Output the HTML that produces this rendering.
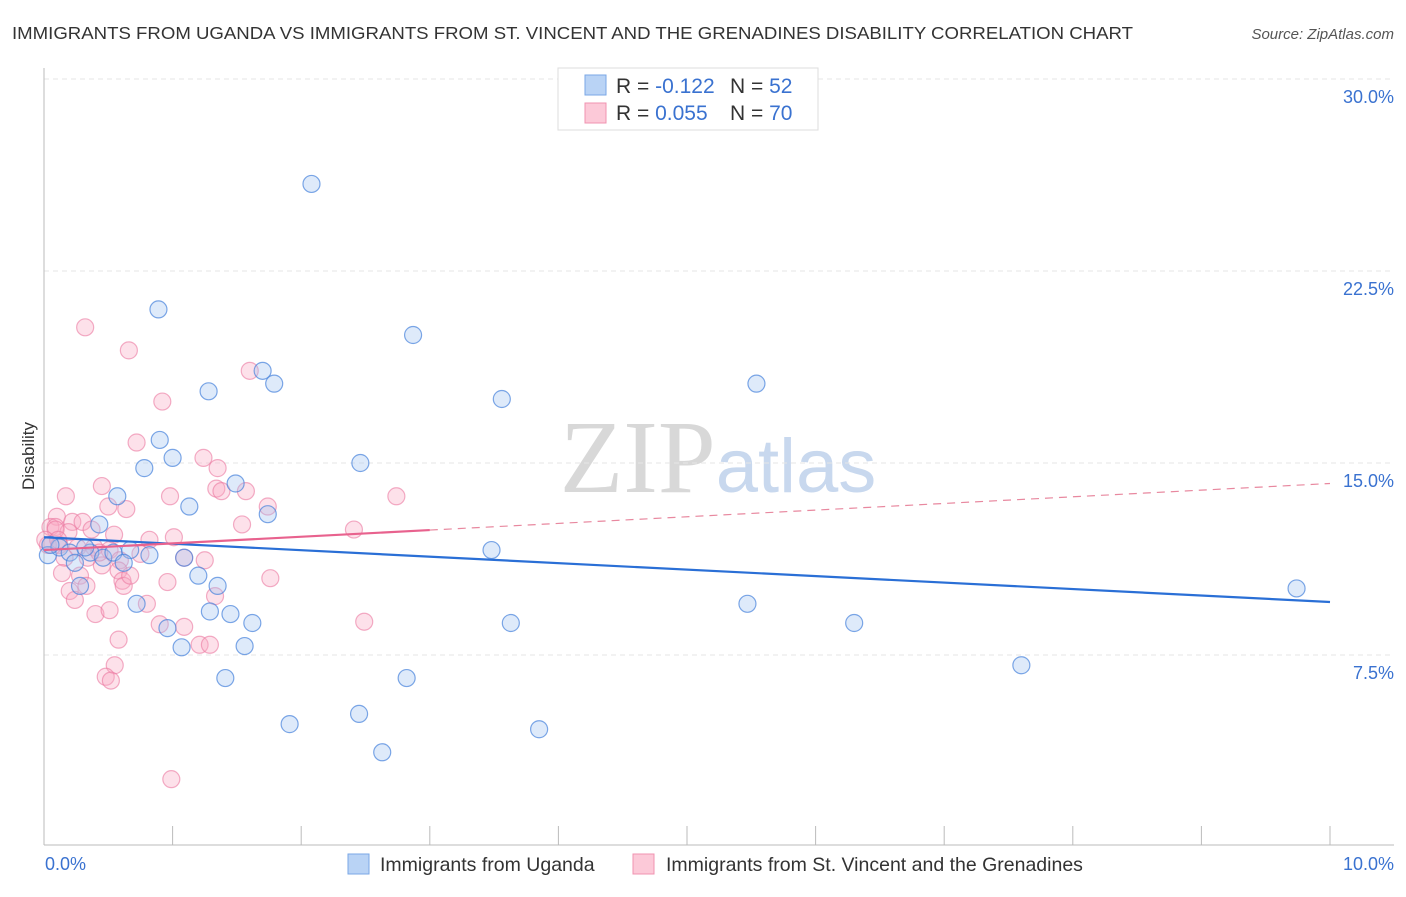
<!DOCTYPE html>
<html><head><meta charset="utf-8">
<style>
body{margin:0;background:#fff;font-family:"Liberation Sans",sans-serif;}
svg text{font-family:"Liberation Sans",sans-serif;}
</style></head>
<body>
<svg id="chart" width="1406" height="892" viewBox="0 0 1406 892">
<text x="12" y="39" font-size="17.5" fill="#333" textLength="1121" lengthAdjust="spacingAndGlyphs">IMMIGRANTS FROM UGANDA VS IMMIGRANTS FROM ST. VINCENT AND THE GRENADINES DISABILITY CORRELATION CHART</text>
<text x="1394" y="39" font-size="15" fill="#555" font-style="italic" text-anchor="end">Source: ZipAtlas.com</text>
<text x="718" y="492" font-size="104" fill="#ddd" text-anchor="middle" font-family="Liberation Serif"><tspan font-family="Liberation Serif" fill="#d8d8d8">ZIP</tspan><tspan font-family="Liberation Sans" fill="#c8d8ee" font-size="76">atlas</tspan></text>
<g id="grid"></g>
<g id="axes"></g>
<g id="pts"></g>
<g id="trends"></g>
<text transform="translate(34,456) rotate(-90)" font-size="17" fill="#333" text-anchor="middle">Disability</text>
<g>
<rect x="558" y="68" width="260" height="62" fill="#fff" stroke="#ddd"/>
<rect x="585" y="75" width="21" height="20" fill="#b9d3f5" stroke="#7aa7e6"/>
<rect x="585" y="103" width="21" height="20" fill="#fcc9d8" stroke="#f093b0"/>
<text x="616" y="93" font-size="21" fill="#333">R = <tspan fill="#3a72d0">-0.122</tspan></text>
<text x="730" y="93" font-size="21" fill="#333">N = <tspan fill="#3a72d0">52</tspan></text>
<text x="616" y="120" font-size="21" fill="#333">R = <tspan fill="#3a72d0">0.055</tspan></text>
<text x="730" y="120" font-size="21" fill="#333">N = <tspan fill="#3a72d0">70</tspan></text>
</g>
<g>
<rect x="348" y="854" width="21" height="20" fill="#b9d3f5" stroke="#7aa7e6"/>
<text x="380" y="871" font-size="19.5" fill="#333">Immigrants from Uganda</text>
<rect x="633" y="854" width="21" height="20" fill="#fcc9d8" stroke="#f093b0"/>
<text x="666" y="871" font-size="19.5" fill="#333">Immigrants from St. Vincent and the Grenadines</text>
</g>
</svg>
<script>
const xTicks=[0,1,2,3,4,5,6,7,8,9,10];
const yTicks=[7.5,15,22.5,30];
const yTickLabels=["7.5%","15.0%","22.5%","30.0%"];
const xTickLabels=["0.0%","10.0%"];
const blueX=[2.08,0.89,2.87,1.70,1.79,1.28,3.56,5.54,0.90,1.0,0.78,2.46,1.49,0.57,1.13,1.74,0.43,0.03,0.12,0.2,0.24,0.36,0.46,0.54,0.67,0.82,0.62,1.09,0.28,1.2,1.35,0.72,1.29,1.45,1.62,0.96,1.07,1.56,1.41,1.91,2.45,2.63,2.82,3.48,3.63,3.85,5.47,6.3,7.6,9.74,0.05,0.32];
const blueY=[25.9,21.0,20.0,18.6,18.1,17.8,17.5,18.1,15.9,15.2,14.8,15.0,14.2,13.7,13.3,13.0,12.6,11.4,11.7,11.5,11.1,11.5,11.3,11.5,11.6,11.4,11.1,11.3,10.2,10.6,10.2,9.5,9.2,9.1,8.75,8.55,7.8,7.85,6.6,4.8,5.2,3.7,6.6,11.6,8.75,4.6,9.5,8.75,7.1,10.1,11.8,11.7];
const pinkX=[0.32,0.66,0.92,1.6,0.72,1.24,1.35,0.45,0.17,0.98,1.34,1.38,1.57,2.74,1.74,0.5,0.64,0.1,0.22,0.3,0.05,0.09,1.54,2.41,0.19,0.545,1.01,0.82,0.03,0.12,0.26,0.39,0.51,0.34,0.16,0.59,1.09,0.45,0.14,0.58,0.28,0.61,1.76,0.33,0.62,0.96,0.2,0.8,1.33,0.4,0.51,0.9,1.09,2.49,0.58,1.21,1.29,0.55,0.48,0.52,0.99,0.09,0.01,0.43,0.75,0.24,0.11,0.37,0.67,1.25];
const pinkY=[20.3,19.4,17.4,18.6,15.8,15.2,14.8,14.1,13.7,13.7,14.0,13.9,13.9,13.7,13.3,13.3,13.2,12.9,12.7,12.7,12.5,12.5,12.6,12.4,12.3,12.2,12.1,12.0,11.8,11.8,11.7,11.7,11.6,11.3,11.3,11.2,11.3,11.0,10.7,10.8,10.6,10.4,10.5,10.2,10.2,10.35,10.0,9.5,9.8,9.1,9.25,8.7,8.6,8.8,8.1,7.9,7.9,7.1,6.65,6.5,2.65,12.4,12.0,11.5,11.45,9.65,12.0,12.4,10.6,11.2];
const blueTrend=[12.1,-0.253];
const pinkTrend=[11.6,0.26];
const pinkSolidEnd=3;
const NS="http://www.w3.org/2000/svg";
const sx=v=>44+v*128.6;
const sy=v=>847-v*25.6;
function mk(t,a,p){const e=document.createElementNS(NS,t);for(const k in a)e.setAttribute(k,a[k]);p.appendChild(e);return e;}
const grid=document.getElementById('grid'),axes=document.getElementById('axes'),pts=document.getElementById('pts'),tr=document.getElementById('trends');
yTicks.forEach((v,i)=>{
 const l=mk('line',{x1:44,x2:1394,y1:sy(v),y2:sy(v),stroke:'#e6e6e6','stroke-dasharray':'5,4'},grid);
 
 
 const t=mk('text',{x:1394,y:sy(v)+24,'font-size':18,fill:'#3a72d0','text-anchor':'end'},axes);
 t.textContent=yTickLabels[i];
 
 
});
const gt=mk('line',{x1:44,x2:1394,y1:79,y2:79,stroke:'#e6e6e6','stroke-dasharray':'5,4'},grid);


const ya=mk('line',{x1:44,x2:44,y1:68,y2:845,stroke:'#bbb'},axes);


const xa=mk('line',{x1:44,x2:1394,y1:845,y2:845,stroke:'#bbb'},axes);


xTicks.forEach(v=>{
 const l=mk('line',{x1:sx(v),x2:sx(v),y1:826,y2:845,stroke:'#bbb'},axes);
 
 
});
const xl0=mk('text',{x:45,y:870,'font-size':18,fill:'#3a72d0'},axes);xl0.textContent=xTickLabels[0];


const xl1=mk('text',{x:1394,y:870,'font-size':18,fill:'#3a72d0','text-anchor':'end'},axes);xl1.textContent=xTickLabels[1];


pinkX.forEach((x,i)=>{
 const c=mk('circle',{cx:sx(x),cy:sy(pinkY[i]),r:8.5,fill:'rgba(248,170,195,0.35)',stroke:'rgba(235,120,160,0.6)','stroke-width':1.2},pts);
 
 
});
blueX.forEach((x,i)=>{
 const c=mk('circle',{cx:sx(x),cy:sy(blueY[i]),r:8.5,fill:'rgba(160,195,240,0.35)',stroke:'rgba(70,130,220,0.7)','stroke-width':1.2},pts);
 
 
});
const bt=mk('line',{x1:sx(0),y1:sy(blueTrend[0]),x2:sx(10),y2:sy(blueTrend[0]+blueTrend[1]*10),stroke:'#2a6fd6','stroke-width':2.2},tr);


const pt=mk('line',{x1:sx(0),y1:sy(pinkTrend[0]),x2:sx(pinkSolidEnd),y2:sy(pinkTrend[0]+pinkTrend[1]*pinkSolidEnd),stroke:'#e8628e','stroke-width':2.2},tr);


const pd=mk('line',{x1:sx(pinkSolidEnd),y1:sy(pinkTrend[0]+pinkTrend[1]*pinkSolidEnd),x2:sx(10),y2:sy(pinkTrend[0]+pinkTrend[1]*10),stroke:'#e8889f','stroke-width':1.2,'stroke-dasharray':'8,6'},tr);


</script>
</body></html>
